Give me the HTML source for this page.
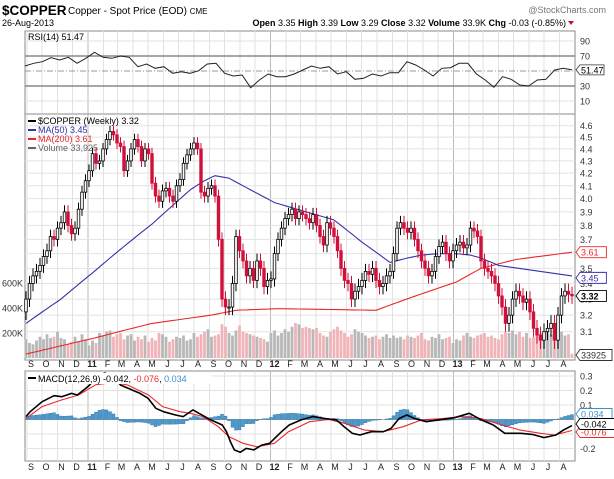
<!DOCTYPE html>
<html><head><meta charset="utf-8">
<style>
html,body{margin:0;padding:0;background:#fff;}
svg{display:block;font-family:"Liberation Sans",sans-serif;}
</style></head>
<body>
<svg id="chart" width="614" height="479" viewBox="0 0 614 479" xmlns="http://www.w3.org/2000/svg">
  <g>
    <text x="2" y="15" font-size="13.5" font-weight="bold" fill="#000">$COPPER</text>
    <text x="68" y="14" font-size="10" fill="#000">Copper - Spot Price (EOD) <tspan font-size="8">CME</tspan></text>
    <text x="2" y="26" font-size="9" fill="#000">26-Aug-2013</text>
    <text x="566" y="26" font-size="9" text-anchor="end" fill="#000"><tspan font-weight="bold">Open</tspan> 3.35 <tspan font-weight="bold">High</tspan> 3.39 <tspan font-weight="bold">Low</tspan> 3.29 <tspan font-weight="bold">Close</tspan> 3.32 <tspan font-weight="bold">Volume</tspan> 33.9K <tspan font-weight="bold">Chg</tspan> -0.03 (-0.85%)</text>
    <polygon points="568,21 574,21 571,25" fill="#c8102e"/>
    <text x="606" y="13" font-size="9" text-anchor="end" fill="#777">@StockCharts.com</text>
  </g>
  <g id="rsi"></g>
  <g id="price"></g>
  <g id="macd"></g>
  <g id="months"></g>
</svg>
<script>
// ---- data ----
const closes = [
3.30,3.40,                 // Aug 10
3.45,3.48,3.52,3.58,3.62,  // Sep
3.72,3.70,3.78,3.82,       // Oct
3.90,3.80,3.74,3.78,       // Nov
3.92,4.05,4.14,4.22,       // Dec
4.36,4.28,4.30,4.40,       // Jan 11
4.48,4.55,4.52,4.45,       // Feb
4.42,4.22,4.30,4.40,       // Mar
4.48,4.42,4.30,4.40,4.36,  // Apr
4.12,4.02,3.98,4.06,       // May
4.08,4.02,3.98,4.10,4.15,  // Jun
4.28,4.35,4.40,4.45,       // Jul
4.40,4.05,4.02,4.08,       // Aug
4.10,4.02,3.70,3.30,3.25,  // Sep
3.25,3.40,3.72,3.62,       // Oct
3.55,3.45,3.50,3.42,       // Nov
3.55,3.50,3.38,3.42,3.43,  // Dec
3.60,3.70,3.78,3.85,       // Jan 12
3.88,3.92,3.85,3.90,       // Feb
3.88,3.85,3.82,3.88,3.80,  // Mar
3.72,3.66,3.82,3.78,       // Apr
3.72,3.62,3.50,3.42,3.40,  // May
3.30,3.35,3.38,3.42,       // Jun
3.48,3.46,3.50,3.42,       // Jul
3.38,3.40,3.45,3.48,       // Aug
3.60,3.78,3.82,3.78,3.75,  // Sep
3.78,3.70,3.62,3.55,       // Oct
3.50,3.45,3.48,3.58,       // Nov
3.65,3.68,3.60,3.55,3.62,  // Dec
3.66,3.68,3.64,3.66,       // Jan 13
3.78,3.76,3.72,3.55,       // Feb
3.50,3.48,3.45,3.40,       // Mar
3.32,3.25,3.15,3.20,3.30,  // Apr
3.35,3.32,3.28,3.30,       // May
3.22,3.12,3.08,3.05,       // Jun
3.10,3.12,3.15,3.05,3.20,  // Jul
3.32,3.35,3.33,3.32        // Aug
];
const firstOpen = 3.22;
const wick = 0.05;
const volumesK = [150,120,110,140,170,150,190,160,170,210,160,150,110,130,170,130,190,150,100,140,120,200,180,210,220,170,190,200,150,180,190,140,170,150,180,130,160,140,200,190,170,130,150,170,160,180,140,150,200,170,190,210,230,170,180,190,270,250,200,180,220,260,210,200,190,180,170,160,150,130,200,220,180,200,230,210,250,280,270,240,250,240,230,240,200,180,170,210,230,250,220,200,170,190,230,210,200,180,160,170,180,150,170,190,160,180,160,170,150,180,170,160,180,200,150,140,170,160,190,150,160,170,120,150,140,180,200,170,160,180,190,200,170,180,160,150,190,210,200,220,190,210,170,200,160,170,190,200,180,210,190,160,190,210,180,190,34];
const ma50Weeks = [0,10,19,28,36,42,47,51,54,58,64,71,80,88,96,104,109,113,118,123,127,130,135,141,147,156];
const ma50Vals  = [3.15,3.30,3.47,3.65,3.81,3.95,4.07,4.14,4.18,4.16,4.07,3.97,3.90,3.84,3.68,3.54,3.57,3.59,3.60,3.60,3.59,3.57,3.52,3.50,3.48,3.45];
const ma200Weeks = [0,19,36,53,60,72,100,110,123,130,140,156];
const ma200Vals  = [2.97,3.06,3.15,3.20,3.23,3.24,3.23,3.31,3.41,3.50,3.56,3.61];
const rsiVals = [56.7,60.2,62.4,67.8,64.7,68.2,60.2,66.9,74.9,68.2,66.9,70,68.2,55.8,59.3,53.6,55.8,46.9,49.1,46.9,50.4,59.3,60.2,46.9,43.3,44.7,27.8,38,46,42.4,42.4,46,51.3,56.7,53.6,55.8,46,49.1,38.9,40.2,46,43.3,47.8,47.8,62.4,58,51.3,43.3,53.6,54.4,60.2,60.2,46,38,28.2,42.4,38.9,31.3,30,38,38.9,51.3,53.6,51.47];
const macdWeeks = [0,1.2,4.6,8,10.2,13,14.7,18,20.3,22.5,24.8,27,30.4,32.6,34.9,37.1,39.3,42.7,44.9,47.7,49.4,52.8,56.1,57.3,58.4,59.5,61.2,62.9,65.1,67.4,69.6,73,75.2,78.6,81.9,85.3,88.7,90.9,93.2,95.4,98.7,102.1,104.3,106.6,108.8,111,114.4,117.8,122.3,126.7,130.1,133.5,136.8,141.3,144.7,148,151.4,153.6,156];
const macdVals  = [0.02,0.054,0.123,0.164,0.157,0.18,0.169,0.233,0.30,0.32,0.30,0.238,0.203,0.18,0.146,0.077,0.054,0.031,0.02,0.066,0.043,-0.003,-0.038,-0.084,-0.153,-0.21,-0.226,-0.199,-0.21,-0.176,-0.164,-0.084,-0.038,-0.003,0.02,0.007,-0.003,-0.05,-0.095,-0.107,-0.084,-0.084,-0.061,0.007,0.031,0.007,-0.015,-0.003,0.012,0.043,-0.003,-0.038,-0.095,-0.095,-0.103,-0.125,-0.107,-0.072,-0.042];
const signalWeeks = [0,4.6,10,15,20,25,29,35,39,44,47,50.5,55,58,62,66,71,75,81,86.5,91,96.5,102,107.7,113,119,124.5,130,136,141,147,151,156];
const signalVals  = [0.007,0.089,0.134,0.169,0.24,0.256,0.238,0.169,0.089,0.054,0.043,0.02,-0.05,-0.119,-0.164,-0.188,-0.164,-0.084,-0.015,0,-0.026,-0.072,-0.084,-0.05,-0.003,0.007,0.02,0.007,-0.038,-0.072,-0.095,-0.107,-0.076];
const priceTicks = [3.1,3.2,3.3,3.4,3.5,3.6,3.7,3.8,3.9,4.0,4.1,4.2,4.3,4.4,4.5,4.6];
const volTicks = [200,400,600];
const rsiTicks = [10,30,50,70,90];
const macdTicks = [-0.2,-0.1,0.1,0.2,0.3];
const monthLabels = ["S","O","N","D","11","F","M","A","M","J","J","A","S","O","N","D","12","F","M","A","M","J","J","A","S","O","N","D","13","F","M","A","M","J","J","A"];

// ---- geometry ----
const NS="http://www.w3.org/2000/svg";
const L=25, R=575;
const X0=26, STEP=3.5;
const xw = w => X0 + w*STEP;
const yP = p => 125.7 + (Math.log(4.6)-Math.log(p))*522;
const yV = k => 358 - k*0.125;
const RT=31, RB=114;
const yR = v => 108.5 - v*0.75;
const MT=371, MB=461;
const yM = v => 419.5 - v*145;
function mk(parent, tag, attrs){const e=document.createElementNS(NS,tag);for(const k in attrs)e.setAttribute(k,attrs[k]);parent.appendChild(e);return e;}
function txt(parent, x,y,s,size,fill,anchor){const t=mk(parent,'text',{x:x,y:y,'font-size':size,fill:fill,'text-anchor':anchor||'start'});t.textContent=s;return t;}
function interp(ws,vs,w){if(w<=ws[0])return vs[0];for(let i=1;i<ws.length;i++){if(w<=ws[i]){const t=(w-ws[i-1])/(ws[i]-ws[i-1]);return vs[i-1]+t*(vs[i]-vs[i-1]);}}return vs[vs.length-1];}

const base = Date.UTC(2010,7,30);
const monthX = [];
for(let m=0;m<36;m++){const d=Date.UTC(2010,8+m,1);monthX.push(X0+((d-base)/86400000/7)*STEP);}

function panelFrame(g, top, bottom, nm){
  const bg = mk(g,'rect',{x:L,y:top,width:R-L,height:bottom-top,fill:'#fff',stroke:'#888','stroke-width':1});
  
  
  monthX.forEach((x,i)=>{
    const isYear = monthLabels[i].length===2;
    const ln = mk(g,'line',{x1:x,x2:x,y1:top,y2:bottom,stroke:isYear?'#bbb':'#e2e2e2','stroke-width':1});
    
    
  });
}

// ---- RSI ----
const gR=document.getElementById('rsi');
panelFrame(gR,RT,RB,'rsi');
rsiTicks.forEach(v=>{
  const y=yR(v);
  let st={x1:L,x2:R,y1:y,y2:y,stroke:'#e2e2e2','stroke-width':1};
  if(v===70||v===30){st.stroke='#888';st['stroke-width']=1.5;}
  if(v===50){st.stroke='#999';st['stroke-dasharray']='6,2,1,2';}
  const ln=mk(gR,'line',st);
  
  
  if(v!==50){const t=txt(gR,580,y+3.5,String(v),9,'#333');
    
    }
});
{
  const pts=rsiVals.map((v,i)=>(L+i*(R-3-L)/(rsiVals.length-1)).toFixed(1)+','+yR(v).toFixed(1)).join(' ');
  const pl=mk(gR,'polyline',{points:pts,fill:'none',stroke:'#222','stroke-width':1});
  
  
  const lb=mk(gR,'path',{d:`M576,${yR(51.47)} l4,-5 h24 v10 h-24 z`,fill:'#fff',stroke:'#333','stroke-width':0.8});
  
  
  const t=txt(gR,581,yR(51.47)+3.5,'51.47',9,'#000');
  
  
  const lg=txt(gR,28,40,'RSI(14) 51.47',9,'#000');
  
  
}

// ---- Price ----
const gP=document.getElementById('price');
panelFrame(gP,114,360,'price');
priceTicks.forEach(p=>{
  const y=yP(p);
  const ln=mk(gP,'line',{x1:L,x2:R,y1:y,y2:y,stroke:'#e2e2e2','stroke-width':1});
  
  
  const t=txt(gP,580,y+3.5,p.toFixed(1),9,'#333');
  
  
});
volTicks.forEach(k=>{
  const t=txt(gP,2,yV(k)+3.5,k+'K',9,'#333');
  
  
});
volumesK.forEach((v,i)=>{
  const o=i===0?firstOpen:closes[i-1];
  const down=closes[i]<o;
  const r=mk(gP,'rect',{x:xw(i)-1.4,y:yV(v),width:2.8,height:358-yV(v),fill:down?'#f0b4b8':'#b8b8b8'});
  
  
});
function maLine(ws,vs,color,nm){
  const pts=[];for(let w=0;w<=156;w+=1)pts.push(xw(w).toFixed(1)+','+yP(interp(ws,vs,w)).toFixed(1));
  const pl=mk(gP,'polyline',{points:pts.join(' '),fill:'none',stroke:color,'stroke-width':1.1,'stroke-linejoin':'round'});
  
  
}
maLine(ma200Weeks,ma200Vals,'#e8282c','ma200-line');
maLine(ma50Weeks,ma50Vals,'#3333aa','ma50-line');
closes.forEach((c,i)=>{
  const o=i===0?firstOpen:closes[i-1];
  const up=c>=o;
  const x=xw(i);
  const hi=Math.max(o,c)+wick, lo=Math.min(o,c)-wick;
  const col=up?'#000':'#d0103a';
  const w=mk(gP,'line',{x1:x,x2:x,y1:yP(hi),y2:yP(lo),stroke:col,'stroke-width':1});
  
  
  const top=yP(Math.max(o,c)), bot=yP(Math.min(o,c));
  const b=mk(gP,'rect',{x:x-1.3,y:top,width:2.6,height:Math.max(1,bot-top),fill:up?'#fff':'#d0103a',stroke:col,'stroke-width':0.8});
  
  
});
function tag(g,y,label,color,bold,nm){
  const p=mk(g,'path',{d:`M576,${y} l4,-5.5 h${label.length*5.6+4} v11 h-${label.length*5.6+4} z`,fill:'#fff',stroke:color,'stroke-width':0.9});
  
  
  const t=txt(g,581,y+3.5,label,9,color);
  if(bold)t.setAttribute('font-weight','bold');
  
  
}
tag(gP,yP(3.61),'3.61','#e8282c',false,'ma200-value');
tag(gP,yP(3.45)+2,'3.45','#3333aa',false,'ma50-value');
tag(gP,yP(3.32),'3.32','#000',true,'close-value');
tag(gP,355,'33925','#333',false,'volume-value');
[["$COPPER (Weekly) 3.32",'#000',121,'price-legend'],["MA(50) 3.45",'#3333aa',130,'ma50-legend'],["MA(200) 3.61",'#e8282c',139,'ma200-legend'],["Volume 33,925",'#666',148,'volume-legend']].forEach(a=>{
  const t=txt(gP,38,a[2]+3,a[0],9,a[1]);
  
  
  const m=mk(gP,'rect',{x:28,y:a[2]-1,width:8,height:2,fill:a[1]});
  
  
});

// ---- MACD ----
const gM=document.getElementById('macd');
panelFrame(gM,MT,MB,'macd');
macdTicks.forEach(v=>{
  const y=yM(v);
  const ln=mk(gM,'line',{x1:L,x2:R,y1:y,y2:y,stroke:'#e2e2e2','stroke-width':1});
  
  
  const t=txt(gM,580,y+3.5,String(v),9,'#333');
  
  
});
{
  const z=mk(gM,'line',{x1:L,x2:R,y1:yM(0),y2:yM(0),stroke:'#bbb','stroke-width':1});
  
  
}
const clip=mk(gM,'clipPath',{id:'mclip'});mk(clip,'rect',{x:L,y:MT,width:R-L,height:MB-MT});
for(let w=0;w<=156;w++){
  const h=interp(macdWeeks,macdVals,w)-interp(signalWeeks,signalVals,w);
  const y0=yM(0), y1=yM(h);
  const r=mk(gM,'rect',{x:xw(w)-1.5,y:Math.min(y0,y1),width:3,height:Math.abs(y1-y0),fill:'#4d9bd0',stroke:'#2b6e9e','stroke-width':0.4,'clip-path':'url(#mclip)'});
  
  
}
function mline(ws,vs,color,wd,nm){
  const pts=ws.map((w,i)=>xw(w).toFixed(1)+','+yM(vs[i]).toFixed(1)).join(' ');
  const pl=mk(gM,'polyline',{points:pts,fill:'none',stroke:color,'stroke-width':wd,'clip-path':'url(#mclip)','stroke-linejoin':'round'});
  
  
}
mline(signalWeeks,signalVals,'#e8282c',1.1,'macd-signal-line');
mline(macdWeeks,macdVals,'#000',1.6,'macd-line');
{
  const bgl=mk(gM,'rect',{x:27,y:373,width:185,height:11,fill:'#fff'});
  
  
  const t=mk(gM,'text',{x:38,y:382,'font-size':9,fill:'#000'});
  t.innerHTML='MACD(12,26,9) -0.042, <tspan fill="#e8282c">-0.076</tspan>, <tspan fill="#3a8fc8">0.034</tspan>';
  
  
  const s=mk(gM,'rect',{x:28,y:377,width:8,height:2,fill:'#000'});
  
  
}
tag(gM,414,'0.034','#3a8fc8',false,'histogram-value');
tag(gM,432,'-0.076','#e8282c',false,'signal-value');
tag(gM,424,'-0.042','#000',false,'macd-value');

// ---- month labels ----
const gX=document.getElementById('months');
[367,470].forEach((yy)=>{
  monthLabels.forEach((lab,i)=>{
    const x=monthX[i]+4;
    if(x>R)return;
    const t=txt(gX,x,yy,lab,9,'#222','middle');
    if(lab.length===2)t.setAttribute('font-weight','bold');
    
    
  });
});
</script>
</body></html>
